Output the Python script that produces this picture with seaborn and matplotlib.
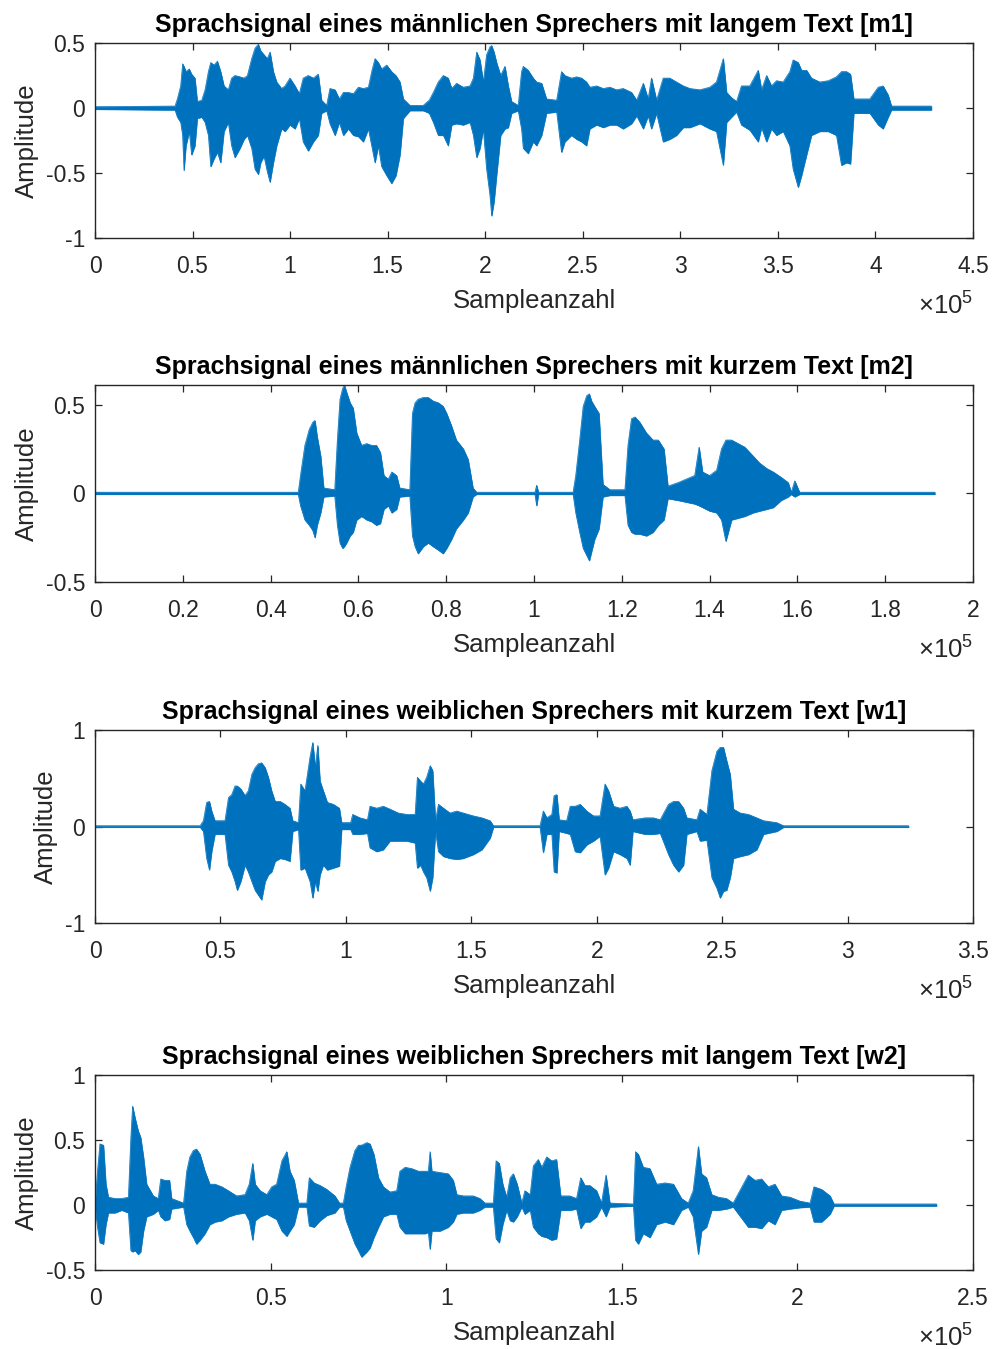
import numpy as np
import pandas as pd
import matplotlib
matplotlib.use("Agg")
import matplotlib.pyplot as plt
import seaborn as sns
from matplotlib.ticker import FuncFormatter, MultipleLocator, FixedLocator

# ---------------- data (sample index in thousands, envelope amplitude) ----------------
titles = [
    "Sprachsignal eines männlichen Sprechers mit langem Text [m1]",
    "Sprachsignal eines männlichen Sprechers mit kurzem Text [m2]",
    "Sprachsignal eines weiblichen Sprechers mit kurzem Text [w1]",
    "Sprachsignal eines weiblichen Sprechers mit langem Text [w2]",
]
x_label = "Sampleanzahl"
y_label = "Amplitude"

m1_k = [0, 41.0, 42.2, 43.9, 44.9, 45.6, 46.6, 48.3, 49.5, 51.2, 52.4, 54.7, 56.4, 58.1, 59.3, 61.0, 62.7, 64.4,
        66.1, 68.3, 70.0, 71.7, 74.3, 76.4, 78.1, 80.3, 82.0, 83.7, 84.9, 86.6, 88.3, 89.7, 91.4, 93.1, 95.6, 97.4,
        99.9, 102.5, 104.7, 106.7, 109.3, 111.9, 114.4, 116.1, 118.7, 120.4, 123.0, 125.2, 127.3, 129.8, 132.4,
        135.0, 137.5, 140.1, 141.8, 143.5, 145.2, 146.9, 149.5, 152.0, 154.2, 156.3, 158.0, 161.4, 168.2, 171.3,
        173.4, 175.9, 178.5, 181.0, 182.8, 185.3, 188.7, 192.2, 193.9, 195.6, 197.3, 199.0, 200.7, 202.4, 203.3,
        204.5, 205.8, 207.9, 210.1, 211.8, 213.5, 216.9, 218.6, 219.5, 222.0, 224.6, 226.3, 228.9, 231.4, 236.6,
        239.1, 240.8, 244.2, 246.8, 249.4, 251.9, 253.6, 257.1, 260.5, 263.9, 267.3, 270.7, 275.0, 277.6, 281.0,
        283.5, 285.2, 287.8, 291.2, 294.6, 298.0, 301.5, 304.9, 310.0, 315.1, 318.5, 322.0, 323.7, 326.2, 328.8,
        331.3, 335.6, 339.9, 341.6, 344.2, 346.7, 349.3, 352.7, 356.1, 357.8, 360.4, 362.1, 364.7, 367.2, 371.5,
        375.8, 380.0, 382.6, 385.2, 387.2, 388.9, 397.1, 401.4, 403.9, 406.5, 408.2, 428.7]
m1_top = [0.01, 0.015, 0.07, 0.17, 0.34, 0.32, 0.28, 0.30, 0.26, 0.23, 0.05, 0.06, 0.14, 0.28, 0.35, 0.33, 0.36, 0.28,
          0.17, 0.14, 0.23, 0.25, 0.24, 0.23, 0.25, 0.38, 0.46, 0.49, 0.44, 0.41, 0.38, 0.43, 0.28, 0.20, 0.15, 0.17,
          0.23, 0.17, 0.11, 0.23, 0.25, 0.23, 0.26, 0.06, 0.02, 0.15, 0.14, 0.07, 0.12, 0.12, 0.11,
          0.16, 0.15, 0.16, 0.28, 0.38, 0.35, 0.30, 0.33, 0.28, 0.25, 0.20, 0.07, 0.02, 0.02, 0.06,
          0.12, 0.20, 0.25, 0.23, 0.15, 0.19, 0.16, 0.17, 0.23, 0.43, 0.37, 0.20, 0.41, 0.47, 0.48,
          0.43, 0.35, 0.25, 0.32, 0.17, 0.05, 0.02, 0.28, 0.32, 0.29, 0.23, 0.20, 0.19, 0.07, 0.06,
          0.28, 0.25, 0.23, 0.24, 0.23, 0.20, 0.16, 0.17, 0.15, 0.16, 0.14, 0.15, 0.12, 0.06, 0.19,
          0.07, 0.23, 0.06, 0.23, 0.23, 0.20, 0.17, 0.15, 0.14, 0.16, 0.20, 0.38, 0.12, 0.08, 0.05,
          0.17, 0.17, 0.29, 0.14, 0.25, 0.17, 0.21, 0.20, 0.28, 0.37, 0.35, 0.29, 0.29, 0.23, 0.20,
          0.21, 0.24, 0.28, 0.28, 0.26, 0.07, 0.07, 0.16, 0.17, 0.10, 0.015, 0.015]
m1_bot = [-0.01, -0.015, -0.07, -0.11, -0.21, -0.48, -0.29, -0.18, -0.36, -0.29, -0.08, -0.07, -0.11, -0.21, -0.45,
          -0.39, -0.34, -0.42, -0.18, -0.11, -0.29, -0.38, -0.31, -0.24, -0.21, -0.31, -0.47, -0.51, -0.42, -0.37,
          -0.49, -0.57, -0.42, -0.29, -0.16, -0.18, -0.13, -0.16, -0.08, -0.26, -0.33, -0.26, -0.21, -0.04, -0.02,
          -0.12, -0.21, -0.11, -0.21, -0.16, -0.21, -0.22, -0.26, -0.16, -0.29, -0.42, -0.29, -0.45, -0.52, -0.58,
          -0.52, -0.36, -0.08, -0.02, -0.02, -0.04, -0.11, -0.21, -0.21, -0.29, -0.13, -0.12, -0.13, -0.11, -0.21,
          -0.38, -0.31, -0.16, -0.47, -0.67, -0.83, -0.72, -0.52, -0.21, -0.16, -0.15, -0.04, -0.02, -0.16, -0.31,
          -0.35, -0.26, -0.29, -0.21, -0.04, -0.03, -0.34, -0.26, -0.21, -0.24, -0.26, -0.29, -0.16, -0.13, -0.15,
          -0.13, -0.13, -0.16, -0.12, -0.06, -0.16, -0.06, -0.16, -0.04, -0.26, -0.24, -0.21, -0.15, -0.15, -0.12,
          -0.16, -0.18, -0.44, -0.11, -0.07, -0.03, -0.13, -0.17, -0.26, -0.15, -0.26, -0.16, -0.21, -0.18, -0.29,
          -0.47, -0.61, -0.52, -0.36, -0.21, -0.18, -0.18, -0.21, -0.44, -0.42, -0.43, -0.04, -0.04, -0.13, -0.16,
          -0.07, -0.015, -0.015]

m2_k = [0, 46.3, 46.8, 47.8, 48.8, 49.6, 50.1, 50.6, 51.4, 52.1, 54.6, 55.2, 55.8, 56.4, 56.8, 57.3, 58.1, 58.8,
        59.6, 60.7, 61.9, 63.0, 64.1, 65.0, 65.8, 66.8, 67.6, 68.7, 69.4, 71.7, 72.3, 72.9, 73.6, 74.8, 75.9, 77.0,
        78.2, 79.3, 80.1, 81.2, 82.3, 83.9, 85.0, 86.1, 86.9, 100.2, 100.6, 101.0, 108.9, 109.5, 110.4, 111.2,
        112.0, 112.6, 113.1, 113.8, 114.8, 115.7, 117.3, 120.7, 121.4, 122.2, 123.0, 124.1, 125.6, 127.1, 128.3,
        129.6, 130.5, 132.8, 134.7, 136.6, 137.6, 138.4, 140.0, 141.6, 142.7, 143.7, 145.0, 146.5, 148.0, 149.9,
        151.4, 153.0, 154.5, 156.3, 157.9, 158.6, 159.4, 160.5, 191.3]
m2_top = [0.006, 0.006, 0.10, 0.27, 0.36, 0.40, 0.41, 0.32, 0.21, 0.03, 0.02, 0.30, 0.53, 0.59, 0.61, 0.57, 0.51, 0.48,
          0.34, 0.27, 0.28, 0.27, 0.27, 0.23, 0.10, 0.08, 0.12, 0.10, 0.03, 0.02, 0.45, 0.51, 0.53, 0.54, 0.54, 0.52,
          0.51, 0.49, 0.45, 0.38, 0.30, 0.25, 0.19, 0.03, 0.006, 0.006, 0.045, 0.006, 0.006, 0.10, 0.30, 0.49,
          0.55, 0.56, 0.52, 0.49, 0.45, 0.05, 0.02, 0.02, 0.27, 0.42, 0.43, 0.40, 0.34, 0.30, 0.30,
          0.25, 0.04, 0.06, 0.08, 0.10, 0.26, 0.12, 0.10, 0.13, 0.25, 0.30, 0.30, 0.28, 0.26, 0.21,
          0.17, 0.14, 0.12, 0.09, 0.06, 0.006, 0.07, 0.006, 0.006]
m2_bot = [-0.006, -0.006, -0.07, -0.15, -0.18, -0.21, -0.25, -0.18, -0.11, -0.02, -0.015, -0.18, -0.28, -0.31, -0.30,
          -0.28, -0.24, -0.22, -0.15, -0.13, -0.15, -0.16, -0.18, -0.17, -0.09, -0.07, -0.11, -0.09, -0.02, -0.015,
          -0.24, -0.30, -0.34, -0.30, -0.28, -0.30, -0.32, -0.34, -0.31, -0.26, -0.20, -0.15, -0.11, -0.02, -0.006,
          -0.006, -0.07, -0.006, -0.006, -0.11, -0.22, -0.31, -0.35, -0.38, -0.33, -0.26, -0.20, -0.02, -0.012,
          -0.012, -0.18, -0.22, -0.23, -0.23, -0.24, -0.22, -0.18, -0.15, -0.03, -0.04, -0.05, -0.06, -0.07,
          -0.08, -0.10, -0.11, -0.15, -0.27, -0.15, -0.14, -0.13, -0.11, -0.10, -0.09, -0.08, -0.04, -0.02,
          -0.006, -0.02, -0.006, -0.006]

w1_k = [0, 41.9, 43.2, 44.5, 45.6, 46.5, 47.8, 51.8, 53.2, 54.5, 55.8, 56.7, 58.1, 59.8, 61.1, 62.5, 63.8, 65.1,
        66.4, 67.8, 69.1, 70.4, 71.8, 73.8, 75.7, 77.7, 78.8, 81.1, 82.0, 83.7, 85.7, 86.8, 87.8, 88.8, 89.7, 91.0,
        92.6, 95.0, 97.4, 98.3, 101.9, 102.7, 105.6, 108.6, 109.6, 112.3, 114.9, 117.6, 120.9, 124.3, 127.6, 128.5,
        129.8, 130.9, 132.2, 133.6, 134.6, 135.7, 136.9, 138.9, 141.5, 144.2, 146.8, 150.8, 154.2, 157.5, 158.8,
        177.4, 178.7, 180.1, 182.1, 183.0, 184.1, 185.0, 188.0, 189.4, 191.4, 193.4, 196.0, 198.7, 201.3, 203.3,
        204.7, 206.7, 209.3, 212.0, 213.3, 214.4, 219.3, 222.6, 225.3, 228.6, 230.6, 232.6, 234.6, 235.9, 239.9,
        241.2, 243.9, 245.9, 247.9, 249.2, 250.5, 251.8, 253.2, 254.5, 257.2, 260.5, 263.8, 266.5, 271.8, 274.4,
        324.3]
w1_top = [0.008, 0.008, 0.06, 0.25, 0.26, 0.16, 0.06, 0.06, 0.30, 0.33, 0.42, 0.42, 0.39, 0.32, 0.37, 0.54, 0.61, 0.65,
          0.66, 0.61, 0.51, 0.37, 0.26, 0.26, 0.23, 0.19, 0.06, 0.04, 0.44, 0.37, 0.72, 0.87, 0.61, 0.84, 0.47, 0.37,
          0.25, 0.23, 0.19, 0.04, 0.04, 0.125, 0.09, 0.07, 0.21, 0.19, 0.21, 0.18, 0.14, 0.125, 0.125, 0.51,
          0.47, 0.44, 0.51, 0.63, 0.58, 0.06, 0.23, 0.19, 0.14, 0.16, 0.14, 0.11, 0.09, 0.06, 0.008,
          0.008, 0.16, 0.09, 0.125, 0.32, 0.33, 0.07, 0.06, 0.21, 0.21, 0.23, 0.16, 0.11, 0.11, 0.44,
          0.37, 0.21, 0.19, 0.21, 0.16, 0.07, 0.09, 0.09, 0.07, 0.23, 0.26, 0.26, 0.19, 0.09, 0.07,
          0.18, 0.125, 0.58, 0.78, 0.82, 0.82, 0.68, 0.54, 0.18, 0.14, 0.125, 0.09, 0.06, 0.04, 0.008,
          0.008]
w1_bot = [-0.008, -0.008, -0.05, -0.33, -0.45, -0.26, -0.08, -0.08, -0.40, -0.47, -0.57, -0.66, -0.57, -0.40, -0.47,
          -0.57, -0.66, -0.71, -0.76, -0.57, -0.50, -0.47, -0.36, -0.33, -0.34, -0.36, -0.05, -0.03, -0.45, -0.43,
          -0.57, -0.74, -0.57, -0.67, -0.50, -0.40, -0.45, -0.43, -0.41, -0.03, -0.03, -0.08, -0.08, -0.07, -0.22,
          -0.26, -0.24, -0.15, -0.15, -0.15, -0.17, -0.43, -0.40, -0.47, -0.53, -0.67, -0.53, -0.05, -0.26, -0.31,
          -0.33, -0.34, -0.33, -0.29, -0.24, -0.12, -0.008, -0.008, -0.27, -0.08, -0.08, -0.47, -0.48, -0.05, -0.07,
          -0.08, -0.26, -0.27, -0.19, -0.15, -0.10, -0.50, -0.43, -0.26, -0.29, -0.33, -0.40, -0.05, -0.08, -0.08,
          -0.07, -0.29, -0.40, -0.47, -0.40, -0.08, -0.05, -0.15, -0.14, -0.53, -0.64, -0.74, -0.67, -0.66, -0.53,
          -0.33, -0.31, -0.29, -0.24, -0.08, -0.05, -0.008, -0.008]

w2_k = [0.0, 0.7, 1.4, 2.4, 3.1, 3.8, 5.7, 7.6, 9.5, 10.2, 10.7, 11.4, 12.3, 13.0, 13.8, 14.7, 16.6, 18.0, 18.7, 19.9,
        21.2, 21.8, 25.2, 26.1, 27.0, 28.0, 28.9, 29.9, 31.3, 32.7, 34.2, 36.1, 38.0, 40.3, 42.7, 43.9, 44.9, 45.6,
        47.0, 48.9, 50.3, 51.7, 53.2, 54.6, 55.5, 56.7, 57.9, 60.3, 61.0, 62.4, 64.1, 66.0, 68.3, 69.6, 70.7, 71.5,
        72.6, 74.0, 75.0, 75.9, 77.4, 78.3, 79.4, 80.7, 82.1, 84.0, 85.9, 86.8, 88.3, 90.2, 92.1, 94.0, 94.9, 95.4,
        95.9, 98.2, 100.6, 102.0, 103.0, 104.9, 107.7, 109.6, 111.0, 113.4, 114.2, 115.1, 116.1, 117.2, 118.2,
        119.1, 120.2, 121.5, 122.4, 123.9, 124.8, 126.2, 127.2, 128.6, 130.0, 131.4, 132.6, 135.2, 137.1, 138.3,
        139.5, 140.9, 142.8, 144.2, 145.5, 146.6, 153.3, 153.9, 154.7, 156.1, 158.0, 159.9, 162.3, 164.7, 167.0,
        168.9, 170.3, 171.8, 172.7, 174.1, 175.6, 177.5, 179.8, 181.7, 186.0, 187.9, 189.8, 191.7, 193.6, 195.5,
        197.9, 200.7, 203.6, 204.7, 206.9, 209.3, 210.4, 239.6]
w2_top = [0.01, 0.26, 0.47, 0.46, 0.16, 0.06, 0.05, 0.05, 0.06, 0.52, 0.76, 0.67, 0.57, 0.52, 0.37, 0.16, 0.07, 0.05,
          0.20, 0.19, 0.19, 0.05, 0.015, 0.26, 0.37, 0.42, 0.43, 0.39, 0.26, 0.16, 0.16, 0.14, 0.11, 0.07, 0.08, 0.16,
          0.32, 0.16, 0.11, 0.08, 0.14, 0.16, 0.34, 0.41, 0.26, 0.19, 0.015, 0.015, 0.21, 0.17, 0.15, 0.12, 0.07, 0.015,
          0.015, 0.14, 0.29, 0.42, 0.46, 0.46, 0.48, 0.47, 0.39, 0.21, 0.14, 0.10, 0.11, 0.26, 0.29, 0.28, 0.26, 0.26,
          0.26, 0.41, 0.26, 0.25, 0.24, 0.19, 0.08, 0.07, 0.07, 0.05, 0.015, 0.015, 0.34, 0.32, 0.16, 0.06, 0.21,
          0.24, 0.16, 0.015, 0.11, 0.08, 0.30, 0.35, 0.29, 0.37, 0.34, 0.35, 0.07, 0.07, 0.05, 0.21,
          0.15, 0.15, 0.11, 0.015, 0.23, 0.015, 0.008, 0.41, 0.39, 0.29, 0.28, 0.16, 0.17, 0.16, 0.05,
          0.015, 0.11, 0.45, 0.24, 0.21, 0.08, 0.06, 0.05, 0.015, 0.23, 0.19, 0.20, 0.14, 0.16, 0.07,
          0.06, 0.03, 0.015, 0.14, 0.12, 0.07, 0.008, 0.008]
w2_bot = [-0.01, -0.17, -0.29, -0.30, -0.15, -0.06, -0.06, -0.04, -0.06, -0.35, -0.36, -0.35, -0.38, -0.36, -0.20,
          -0.09, -0.07, -0.04, -0.09, -0.12, -0.11, -0.03, -0.015, -0.15, -0.20, -0.25, -0.30, -0.27, -0.22, -0.15,
          -0.13, -0.12, -0.09, -0.07, -0.06, -0.12, -0.27, -0.12, -0.09, -0.07, -0.09, -0.11, -0.20, -0.24, -0.20,
          -0.15, -0.015, -0.015, -0.16, -0.17, -0.12, -0.08, -0.06, -0.015, -0.015, -0.12, -0.20, -0.30, -0.35, -0.40,
          -0.36, -0.33, -0.25, -0.17, -0.09, -0.07, -0.07, -0.17, -0.22, -0.22, -0.22, -0.22, -0.21, -0.34, -0.20,
          -0.20, -0.17, -0.13, -0.07, -0.06, -0.06, -0.04, -0.015, -0.015, -0.26, -0.29, -0.15, -0.04, -0.12, -0.13,
          -0.09, -0.015, -0.07, -0.04, -0.17, -0.22, -0.24, -0.25, -0.27, -0.26, -0.04, -0.04, -0.03, -0.18, -0.13,
          -0.13, -0.09, -0.015, -0.09, -0.015, -0.008, -0.27, -0.30, -0.22, -0.25, -0.15, -0.13, -0.15, -0.04, -0.015,
          -0.09, -0.38, -0.20, -0.17, -0.04, -0.04, -0.03, -0.015, -0.17, -0.17, -0.18, -0.12, -0.15, -0.04, -0.03,
          -0.02, -0.015, -0.13, -0.13, -0.07, -0.008, -0.008]

x_max = [4.5e5, 2.0e5, 3.5e5, 2.5e5]
x_step = [0.5e5, 0.2e5, 0.5e5, 0.5e5]
y_lims = [(-1, 0.5), (-0.5, 0.61), (-1, 1), (-0.5, 1)]
y_ticks = [[-1, -0.5, 0, 0.5], [-0.5, 0, 0.5], [-1, 0, 1], [-0.5, 0, 0.5, 1]]

signals = [(m1_k, m1_top, m1_bot), (m2_k, m2_top, m2_bot), (w1_k, w1_top, w1_bot), (w2_k, w2_top, w2_bot)]

# ---------------- style ----------------
sns.set_theme(style="white")
plt.rcParams['font.family'] = ['Liberation Sans', 'DejaVu Sans']
plt.rcParams['mathtext.fontset'] = 'custom'
plt.rcParams['mathtext.rm'] = 'Liberation Sans'
plt.rcParams['mathtext.it'] = 'Liberation Sans'
plt.rcParams['axes.unicode_minus'] = False

LINE = "#0072BD"
DARK = "#262626"

W, H = 1000, 1349
fig = plt.figure(figsize=(W / 100, H / 100), dpi=100)

# axes boxes in pixels: (top, bottom)
boxes = [(43, 238), (385, 582), (730, 923), (1075, 1270)]
left_px, right_px = 95, 973

for i, (top_px, bot_px) in enumerate(boxes):
    ax = fig.add_axes([left_px / W, 1 - bot_px / H, (right_px - left_px) / W, (bot_px - top_px) / H])
    k, tp, bt = signals[i]
    df = pd.DataFrame({"x": np.asarray(k) * 1000.0, "top": tp, "bot": bt})
    ax.fill_between(df["x"], df["bot"], df["top"], color=LINE, lw=0.4, edgecolor=LINE)
    sns.lineplot(data=df, x="x", y="top", ax=ax, color=LINE, lw=0.5, estimator=None, sort=False)
    sns.lineplot(data=df, x="x", y="bot", ax=ax, color=LINE, lw=0.5, estimator=None, sort=False)

    ax.set_xlim(0, x_max[i])
    ax.set_ylim(*y_lims[i])
    ax.xaxis.set_major_locator(MultipleLocator(x_step[i]))
    ax.xaxis.set_major_formatter(FuncFormatter(lambda v, p: f"{v / 1e5:g}"))
    ax.yaxis.set_major_locator(FixedLocator(y_ticks[i]))
    ax.yaxis.set_major_formatter(FuncFormatter(lambda v, p: f"{v:g}"))

    for s in ax.spines.values():
        s.set_visible(True)
        s.set_color(DARK)
        s.set_linewidth(1.0)
    ax.tick_params(axis="both", which="major", direction="in", length=5, width=0.9,
                   color=DARK, labelcolor=DARK, labelsize=16.5,
                   top=True, right=True, bottom=True, left=True)
    ax.tick_params(axis="x", pad=12)
    ax.tick_params(axis="y", pad=7)

    ax.set_title(titles[i], fontsize=18, fontweight="bold", color="#000000", pad=8)
    ax.set_xlabel(x_label, fontsize=18.5, color=DARK, labelpad=8)
    ax.set_ylabel(y_label, fontsize=18.5, color=DARK, labelpad=5)
    ax.annotate(r"$\times10^{5}$", xy=(1, 0), xycoords="axes fraction",
                xytext=(0, -55), textcoords="offset points",
                ha="right", va="baseline", fontsize=18.5, color=DARK)

fig.savefig("out.png", dpi=100)
